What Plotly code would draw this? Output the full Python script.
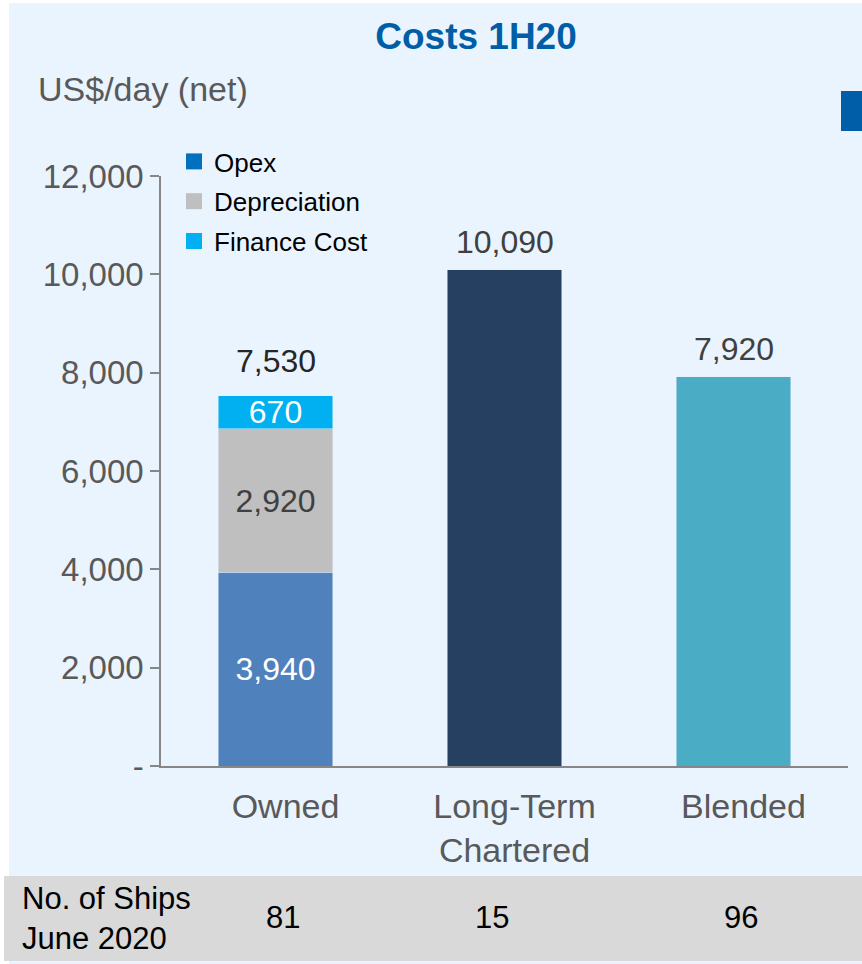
import plotly.graph_objects as go

# ---------------- data ----------------
categories = ["Owned", "Long-Term<br>Chartered", "Blended"]
opex = [3940, None, None]
depreciation = [2920, None, None]
finance_cost = [670, None, None]
total_other = [None, 10090, 7920]
totals = [7530, 10090, 7920]
ships = [81, 15, 96]
y_ticks = [0, 2000, 4000, 6000, 8000, 10000, 12000]
y_ticklabels = ["-", "2,000", "4,000", "6,000", "8,000", "10,000", "12,000"]

W, H = 862, 964
PL, PR, PT, PB = 161, 848, 176, 766  # plot area in pixels


def px_x(px):
    return (px - PL) / (PR - PL)


def px_y(py):
    return (PB - py) / (PB - PT)


FONT = "Liberation Sans, Arial, sans-serif"
BG = "#EAF4FE"

fig = go.Figure()

fig.add_trace(go.Bar(
    x=categories, y=opex, marker_color="#4F81BD", showlegend=False,
    text=["3,940", "", ""], textposition="inside", insidetextanchor="middle",
    textfont=dict(color="white", size=32, family=FONT), textangle=0,
    constraintext="none", width=0.5, hoverinfo="skip"))
fig.add_trace(go.Bar(
    x=categories, y=depreciation, marker_color="#BFBFBF", showlegend=False,
    text=["2,920", "", ""], textposition="inside", insidetextanchor="middle",
    textfont=dict(color="#404040", size=32, family=FONT), textangle=0,
    constraintext="none", width=0.5, hoverinfo="skip"))
fig.add_trace(go.Bar(
    x=categories, y=finance_cost, marker_color="#00B0F0", showlegend=False,
    text=["670", "", ""], textposition="inside", insidetextanchor="middle",
    textfont=dict(color="white", size=32, family=FONT), textangle=0,
    constraintext="none", width=0.5, hoverinfo="skip"))
fig.add_trace(go.Bar(
    x=categories, y=total_other, marker_color=["#000000", "#264061", "#4BACC6"],
    showlegend=False, width=0.5, hoverinfo="skip"))

# legend entries (legend swatches differ from bar fills in the original)
for name, col in [("Opex", "#0070C0"), ("Depreciation", "#BFBFBF"), ("Finance Cost", "#00B0F0")]:
    fig.add_trace(go.Scatter(x=[None], y=[None], mode="markers", name=name, legendgroup=name,
                             marker=dict(symbol="square", size=16, color=col, line=dict(width=0))))

# total labels
for i, (c, t) in enumerate(zip(categories, totals)):
    fig.add_annotation(x=c, y=t, xref="x", yref="y", text=f"{t:,}", showarrow=False,
                       yanchor="bottom", yshift=15 if i == 0 else 8,
                       font=dict(size=32, color="#262626" if i == 0 else "#404040", family=FONT))

# background panels
fig.add_shape(type="rect", xref="paper", yref="paper", layer="below",
              x0=px_x(9), x1=px_x(W + 5), y0=px_y(H + 5), y1=px_y(3),
              fillcolor=BG, line=dict(width=0))
fig.add_shape(type="rect", xref="paper", yref="paper", layer="below",
              x0=px_x(4), x1=px_x(W + 5), y0=px_y(961), y1=px_y(876),
              fillcolor="#D9D9D9", line=dict(width=0))
fig.add_shape(type="rect", xref="paper", yref="paper", layer="below",
              x0=px_x(841), x1=px_x(W + 5), y0=px_y(131), y1=px_y(91),
              fillcolor="#005EA8", line=dict(width=0))

# ships row
fig.add_annotation(xref="paper", yref="paper", x=px_x(20), y=px_y(918), xanchor="left",
                   yanchor="middle", align="left", showarrow=False,
                   text="No. of Ships<br>June 2020", font=dict(size=31, color="#000000", family=FONT))
for c, s, dx in zip(categories, ships, [7, -13, 7]):
    fig.add_annotation(x=c, xref="x", yref="paper", y=px_y(917), text=str(s), showarrow=False,
                       xshift=dx, yanchor="middle", font=dict(size=31, color="#000000", family=FONT))

# y unit label
fig.add_annotation(xref="paper", yref="paper", x=px_x(36), y=px_y(89), xanchor="left",
                   yanchor="middle", showarrow=False, text="US$/day (net)",
                   font=dict(size=34, color="#595959", family=FONT))

fig.update_layout(
    width=W, height=H, barmode="stack", bargap=0.5,
    paper_bgcolor="white", plot_bgcolor=BG,
    margin=dict(l=PL, r=W - PR, t=PT, b=H - PB, pad=0),
    title=dict(text="<b>Costs 1H20</b>", x=476 / W, xanchor="center", xref="container",
               y=1 - 36 / H, yanchor="middle", yref="container",
               font=dict(size=37, color="#005EA6", family=FONT)),
    font=dict(family=FONT),
    showlegend=True,
    legend=dict(x=px_x(174), y=px_y(138), xanchor="left", yanchor="top",
                bgcolor="rgba(0,0,0,0)", font=dict(size=26, color="#000000", family=FONT),
                itemwidth=30, traceorder="grouped", tracegroupgap=3),
    xaxis=dict(range=[-0.5, 2.5], showline=True, linecolor="#878787", linewidth=2,
               ticks="", showgrid=False, zeroline=False, ticklabelstandoff=9,
               ticklabelshift=10,
               tickfont=dict(size=34, color="#595959", family=FONT)),
    yaxis=dict(range=[0, 12000], tickvals=y_ticks, ticktext=y_ticklabels,
               showline=True, linecolor="#878787", linewidth=1.5, ticks="outside",
               ticklen=9, tickcolor="#878787", tickwidth=1.5, showgrid=False, zeroline=False,
               tickfont=dict(size=33, color="#595959", family=FONT)),
)

fig.write_html("out.html")
